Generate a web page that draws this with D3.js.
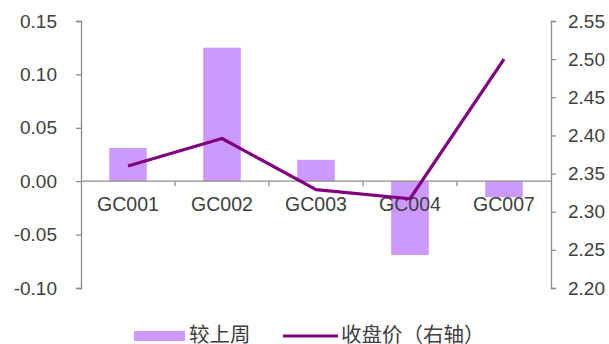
<!DOCTYPE html>
<html>
<head>
<meta charset="utf-8">
<script src="https://cdn.jsdelivr.net/npm/d3@7"></script>
<style>
  html, body { margin: 0; padding: 0; background: #fff; }
  svg { display: block; }
  text { font-family: "Liberation Sans", Arial, sans-serif; fill: #404040; }
  .cjk { font-family: "Noto Sans CJK SC", "Noto Sans", sans-serif; }
</style>
</head>
<body>
<svg id="chart" width="609" height="344"></svg>
<script>
// Weekly change (left axis) and closing price (right axis) per repo tenor
const categories = ["GC001", "GC002", "GC003", "GC004", "GC007"];
const weeklyChange = [0.031, 0.125, 0.020, -0.069, -0.015];
const closePrice = [2.360, 2.396, 2.329, 2.317, 2.500];
const leftTicks = [-0.10, -0.05, 0.00, 0.05, 0.10, 0.15];
const rightTicks = [2.20, 2.25, 2.30, 2.35, 2.40, 2.45, 2.50, 2.55];
const seriesNames = ["较上周", "收盘价（右轴）"];

const barColor = "#CC99FF";
const lineColor = "#800080";
const axisColor = "#8C8C8C";

const svg = d3.select("#chart");
const plot = { left: 81, right: 551, top: 21, bottom: 288 };

const x = d3.scaleBand()
  .domain(categories)
  .range([plot.left, plot.right])
  .paddingInner(0.6)
  .paddingOuter(0.3);

const yL = d3.scaleLinear().domain([-0.10, 0.15]).range([plot.bottom, plot.top]);
const yR = d3.scaleLinear().domain([2.20, 2.55]).range([plot.bottom, plot.top]);

// Bars
svg.append("g").selectAll("rect")
  .data(categories)
  .join("rect")
  .attr("x", d => x(d))
  .attr("width", x.bandwidth())
  .attr("y", (d, i) => yL(Math.max(0, weeklyChange[i])))
  .attr("height", (d, i) => Math.abs(yL(weeklyChange[i]) - yL(0)))
  .attr("fill", barColor);

// Left axis
const gL = svg.append("g")
  .attr("transform", `translate(${plot.left},0)`)
  .call(d3.axisLeft(yL).tickValues(leftTicks).tickFormat(d3.format(".2f")).tickSize(5).tickPadding(19));
// Right axis
const gR = svg.append("g")
  .attr("transform", `translate(${plot.right},0)`)
  .call(d3.axisRight(yR).tickValues(rightTicks).tickFormat(d3.format(".2f")).tickSize(5).tickPadding(12));

[gL, gR].forEach(g => {
  g.select(".domain").attr("stroke", axisColor).attr("stroke-width", 1.3);
  g.selectAll(".tick line").attr("stroke", axisColor).attr("stroke-width", 1.3);
  g.selectAll(".tick text")
    .attr("font-size", 19)
    .attr("font-family", "Liberation Sans, Arial, sans-serif")
    .attr("fill", "#404040");
});
// Plain hyphen for negative labels
gL.selectAll(".tick text").text(d => d3.format(".2f")(d).replace("−", "-"));

// Category axis along zero
const y0 = yL(0);
const gX = svg.append("g").attr("transform", `translate(0,${y0})`);
gX.append("line")
  .attr("x1", plot.left).attr("x2", plot.right)
  .attr("stroke", axisColor).attr("stroke-width", 1.3);
const step = x.step();
const boundaries = d3.range(1, categories.length).map(i => x(categories[i]) - step * x.paddingInner() / 2);
gX.selectAll("line.sep")
  .data(boundaries)
  .join("line")
  .attr("class", "sep")
  .attr("x1", d => d).attr("x2", d => d)
  .attr("y1", 0).attr("y2", 5)
  .attr("stroke", axisColor).attr("stroke-width", 1.3);
gX.selectAll("text.cat")
  .data(categories)
  .join("text")
  .attr("class", "cat")
  .attr("x", d => x(d) + x.bandwidth() / 2)
  .attr("y", 30)
  .attr("text-anchor", "middle")
  .attr("font-size", 19.5)
  .text(d => d);

// Closing price line
const line = d3.line()
  .x((d, i) => x(categories[i]) + x.bandwidth() / 2)
  .y(d => yR(d));
svg.append("path")
  .datum(closePrice)
  .attr("d", line)
  .attr("fill", "none")
  .attr("stroke", lineColor)
  .attr("stroke-width", 3.2)
  .attr("stroke-linejoin", "round");

// Legend
const lg = svg.append("g");
lg.append("rect")
  .attr("x", 134).attr("y", 331).attr("width", 51).attr("height", 10)
  .attr("fill", barColor);
lg.append("text")
  .attr("class", "cjk")
  .attr("x", 189).attr("y", 333)
  .attr("dominant-baseline", "central")
  .attr("font-size", 20.5)
  .text(seriesNames[0]);
lg.append("line")
  .attr("x1", 283).attr("x2", 338).attr("y1", 336).attr("y2", 336)
  .attr("stroke", lineColor).attr("stroke-width", 3.2);
lg.append("text")
  .attr("class", "cjk")
  .attr("x", 341).attr("y", 333)
  .attr("dominant-baseline", "central")
  .attr("font-size", 20.5)
  .text(seriesNames[1]);
</script>
</body>
</html>
